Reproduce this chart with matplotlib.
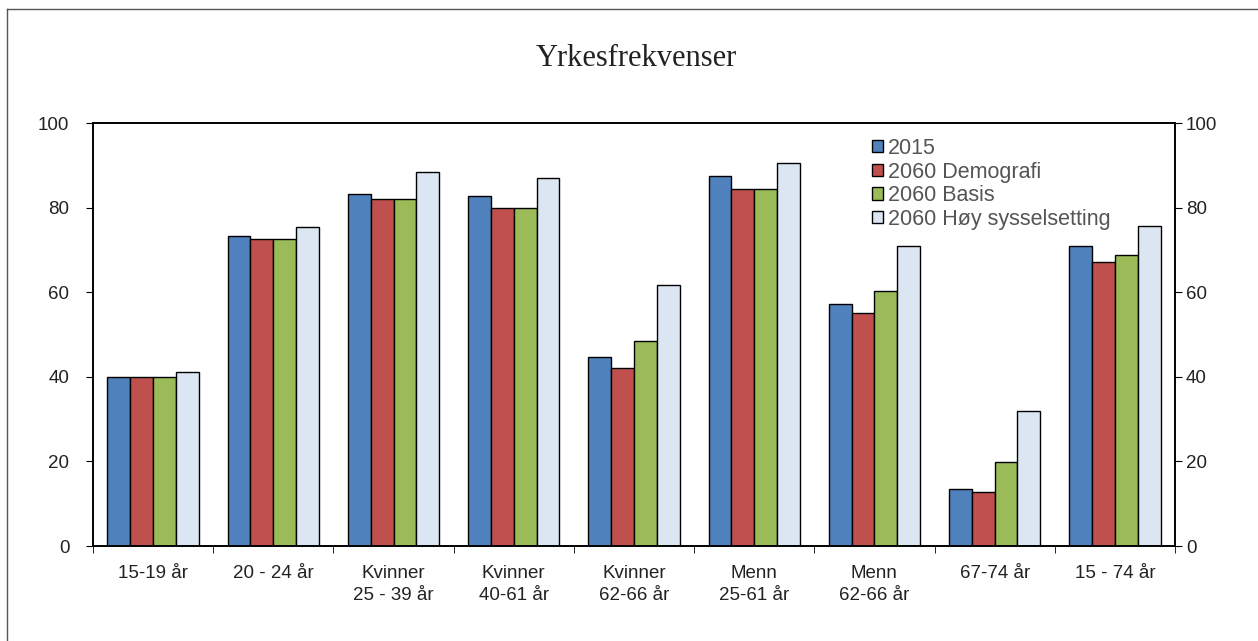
import matplotlib.pyplot as plt
from matplotlib.lines import Line2D
import numpy as np

plt.rcParams['font.family'] = ['Liberation Sans', 'DejaVu Sans']

categories = ["15-19 år", "20 - 24 år", "Kvinner\n25 - 39 år", "Kvinner\n40-61 år",
              "Kvinner\n62-66 år", "Menn\n25-61 år", "Menn\n62-66 år", "67-74 år", "15 - 74 år"]
series_names = ["2015", "2060 Demografi", "2060 Basis", "2060 Høy sysselsetting"]
v2015 = [40.0, 73.3, 83.2, 82.8, 44.7, 87.4, 57.3, 13.4, 71.0]
v2060_demografi = [40.0, 72.5, 82.0, 79.8, 42.0, 84.4, 55.0, 12.7, 67.2]
v2060_basis = [40.0, 72.5, 82.0, 79.8, 48.5, 84.4, 60.4, 19.9, 68.7]
v2060_hoy = [41.2, 75.5, 88.5, 87.0, 61.7, 90.5, 70.9, 31.8, 75.7]
colors = ["#4F81BD", "#C0504D", "#9BBB59", "#DCE6F2"]

fig = plt.figure(figsize=(12.58, 6.41), dpi=100)
ax = fig.add_axes([0.0739, 0.1482, 0.8601, 0.6599])

x = np.arange(len(categories))
w = 0.19
for i, vals in enumerate([v2015, v2060_demografi, v2060_basis, v2060_hoy]):
    ax.bar(x + (i - 1.5) * w, vals, w, color=colors[i], edgecolor="black",
           linewidth=1.0, label=series_names[i])

ax.set_xlim(-0.5, len(categories) - 0.5)
ax.set_ylim(0, 100)
ax.set_yticks(range(0, 101, 20))
ax.tick_params(axis="y", direction="out", length=5, labelsize=13.5, labelcolor="#222222", pad=12)
ax.set_xticks(x)
ax.set_xticklabels(categories, fontsize=13.5, color="#222222", linespacing=1.35)
ax.tick_params(axis="x", which="major", length=0, pad=14)
ax.set_xticks(np.arange(-0.5, len(categories) + 0.5, 1), minor=True)
ax.tick_params(axis="x", which="minor", direction="out", length=5)

ax2 = ax.twinx()
ax2.set_ylim(0, 100)
ax2.set_yticks(range(0, 101, 20))
ax2.tick_params(axis="y", direction="out", length=5, labelsize=13.5, labelcolor="#222222", pad=3)

for a in (ax, ax2):
    for s in a.spines.values():
        s.set_linewidth(1.2)

leg = ax.legend(loc="upper left", bbox_to_anchor=(0.712, 0.985), frameon=False,
                fontsize=15.5, handlelength=0.5, handleheight=0.5, handletextpad=0.25,
                labelspacing=0.12, borderaxespad=0)
for t in leg.get_texts():
    t.set_color("#555555")

fig.text(0.506, 0.908, "Yrkesfrekvenser", ha="center", va="center",
         fontsize=22, family="Liberation Serif", color="#222222")

# outer chart frame
fig.add_artist(Line2D([0.0056, 1.0], [0.986, 0.986], color="#555555", linewidth=1.0))
fig.add_artist(Line2D([0.0056, 0.0056], [0.0, 0.986], color="#555555", linewidth=1.0))

fig.savefig("out.png", dpi=100)
